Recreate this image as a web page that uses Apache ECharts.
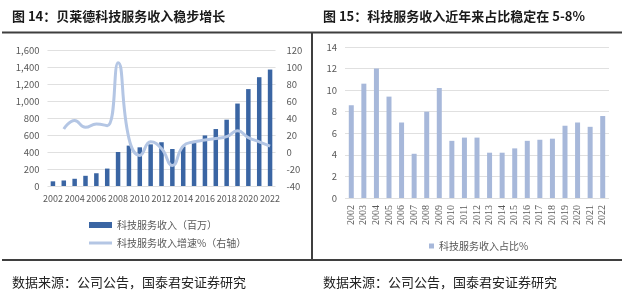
<!DOCTYPE html>
<html><head><meta charset="utf-8">
<script src="https://cdn.jsdelivr.net/npm/echarts@6/dist/echarts.min.js"></script>
<style>html,body{margin:0;padding:0;background:#fff}#c{width:624px;height:296px}</style>
</head><body><div id="c"></div>
<script>
const years = ['2002','2003','2004','2005','2006','2007','2008','2009','2010','2011','2012','2013','2014','2015','2016','2017','2018','2019','2020','2021','2022'];
const revenue = [55,65,85,120,150,205,400,475,455,490,515,435,465,505,595,670,780,970,1140,1280,1370];
const growth = [null,27,37,29,33,31,105,16,-4,12,4,-16,7,12,14,16,18,25,17,12,7];
const share = [8.6,10.6,12.0,9.4,7.0,4.1,8.0,10.2,5.3,5.6,5.6,4.2,4.2,4.6,5.3,5.4,5.5,6.7,7.0,6.6,7.6];
const leftTicks = [0,200,400,600,800,1000,1200,1400,1600];
const rightTicks = [-40,-20,0,20,40,60,80,100,120];
const shareTicks = [0,2,4,6,8,10,12,14];

const FONT = '"Noto Sans CJK SC", "Noto Sans", sans-serif';
const chart = echarts.init(document.getElementById('c'), null, {renderer:'canvas'});
const axisLbl = {color:'#595959', fontSize:9.5, fontFamily:FONT};
chart.setOption({
  animation:false,
  textStyle:{fontFamily:FONT},
  title:[
    {text:'图 14：贝莱德科技服务收入稳步增长', left:7, top:5, textStyle:{fontSize:13, fontWeight:'bold', color:'#1a1a1a', fontFamily:FONT}},
    {text:'图 15：科技服务收入近年来占比稳定在 5-8%', left:318, top:5, textStyle:{fontSize:13, fontWeight:'bold', color:'#1a1a1a', fontFamily:FONT}},
    {text:'数据来源：公司公告，国泰君安证券研究', left:7, top:271, textStyle:{fontSize:13, fontWeight:'normal', color:'#222', fontFamily:FONT}},
    {text:'数据来源：公司公告，国泰君安证券研究', left:318, top:271, textStyle:{fontSize:13, fontWeight:'normal', color:'#222', fontFamily:FONT}}
  ],
  graphic:[
    {type:'line', shape:{x1:2,y1:32.5,x2:622,y2:32.5}, style:{stroke:'#3f3f3f', lineWidth:2}},
    {type:'line', shape:{x1:2,y1:260,x2:622,y2:260}, style:{stroke:'#3f3f3f', lineWidth:2}},
    {type:'line', shape:{x1:312,y1:32,x2:312,y2:260}, style:{stroke:'#3f3f3f', lineWidth:2}}
  ],
  legend:[
    {data:[{name:'科技服务收入（百万）', icon:'rect'}], left:84, top:215, itemWidth:23, itemHeight:6, itemGap:4,
     textStyle:{fontSize:10, color:'#595959', fontFamily:FONT}},
    {data:[{name:'科技服务收入增速%（右轴）', icon:'rect'}], left:84, top:233, itemWidth:23, itemHeight:3, itemGap:4,
     textStyle:{fontSize:10, color:'#595959', fontFamily:FONT}},
    {data:[{name:'科技服务收入占比%', icon:'rect'}], left:424, top:236, itemWidth:5, itemHeight:5, itemGap:2,
     textStyle:{fontSize:10, color:'#595959', fontFamily:FONT}}
  ],
  grid:[
    {left:47.5, top:50, width:228, height:136},
    {left:345, top:47, width:264, height:151}
  ],
  xAxis:[
    {type:'category', gridIndex:0, data:years, axisLine:{show:false}, axisTick:{show:false},
     axisLabel:{color:'#595959', fontSize:9, interval:1, margin:8, fontFamily:FONT}},
    {type:'category', gridIndex:1, data:years, axisLine:{show:false}, axisTick:{show:false},
     axisLabel:{color:'#595959', fontSize:10, rotate:90, interval:0, margin:7, fontFamily:'"Liberation Serif", serif'}}
  ],
  yAxis:[
    {type:'value', gridIndex:0, min:leftTicks[0], max:leftTicks[leftTicks.length-1], interval:200,
     axisLine:{show:false}, axisTick:{show:false}, splitLine:{lineStyle:{color:'#e0e0e0', width:1.2}},
     axisLabel:Object.assign({}, axisLbl, {margin:8, formatter:v=>v.toLocaleString('en-US')})},
    {type:'value', gridIndex:0, min:rightTicks[0], max:rightTicks[rightTicks.length-1], interval:20, position:'right',
     axisLine:{show:false}, axisTick:{show:false}, splitLine:{show:false},
     axisLabel:Object.assign({}, axisLbl, {margin:11})},
    {type:'value', gridIndex:1, min:shareTicks[0], max:shareTicks[shareTicks.length-1], interval:2,
     axisLine:{show:false}, axisTick:{show:false}, splitLine:{lineStyle:{color:'#e0e0e0', width:1.2}},
     axisLabel:Object.assign({}, axisLbl, {margin:8})}
  ],
  series:[
    {name:'科技服务收入（百万）', type:'bar', xAxisIndex:0, yAxisIndex:0, data:revenue, barWidth:4.5,
     itemStyle:{color:'#3a65a3'}},
    {name:'科技服务收入增速%（右轴）', type:'line', xAxisIndex:0, yAxisIndex:1, data:growth, smooth:0.5,
     symbol:'none', connectNulls:false, lineStyle:{color:'#b4c6e4', width:3}, itemStyle:{color:'#b4c6e4'}},
    {name:'科技服务收入占比%', type:'bar', xAxisIndex:1, yAxisIndex:2, data:share, barWidth:5,
     itemStyle:{color:'#a7b8da'}}
  ]
});
</script></body></html>
